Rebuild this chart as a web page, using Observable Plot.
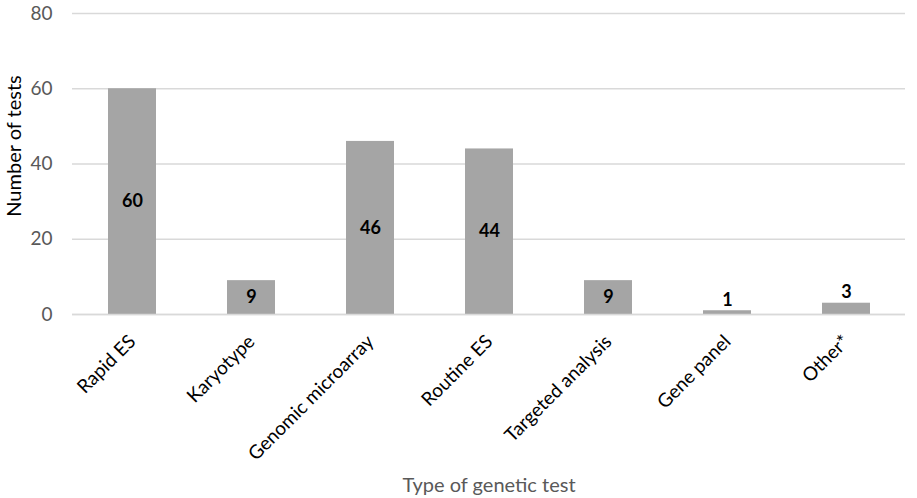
<!DOCTYPE html>
<html>
<head>
<meta charset="utf-8">
<script src="https://cdn.jsdelivr.net/npm/d3@7"></script>
<script src="https://cdn.jsdelivr.net/npm/@observablehq/plot@0.6"></script>
<style>
  html, body { margin: 0; padding: 0; background: #fff; }
  #chart { width: 917px; height: 498px; position: relative; }
  svg { font-family: Lato, "Open Sans", sans-serif; }
</style>
</head>
<body>
<div id="chart"></div>
<script>
// Number of tests by type of genetic test
const categories = ["Rapid ES", "Karyotype", "Genomic microarray", "Routine ES", "Targeted analysis", "Gene panel", "Other*"];
const counts = [60, 9, 46, 44, 9, 1, 3];
const yTicks = [0, 20, 40, 60, 80];

const rows = categories.map((c, i) => ({category: c, count: counts[i]}));
// short bars get their label just above the bar, the rest are centred inside
const inside = rows.filter(d => d.count >= 5);
const outside = rows.filter(d => d.count < 5);

const chart = Plot.plot({
  width: 917,
  height: 498,
  marginLeft: 72,
  marginRight: 12,
  marginTop: 13,
  marginBottom: 184,
  style: {fontFamily: "Lato, 'Open Sans', sans-serif", background: "#fff"},
  x: {domain: categories, paddingInner: 0.6, paddingOuter: 0.3, label: null},
  y: {domain: [0, 80], label: null},
  marks: [
    Plot.gridY(yTicks, {stroke: "#d9d9d9", strokeOpacity: 1, strokeWidth: 1.3}),
    Plot.barY(rows, {x: "category", y: "count", fill: "#a5a5a5"}),
    Plot.ruleY([0], {stroke: "#d9d9d9", strokeWidth: 1.3}),
    Plot.axisY({ticks: yTicks, tickSize: 0, tickPadding: 20, fontSize: 19, color: "#595959", label: null}),
    Plot.axisX({tickSize: 0, tickPadding: 24, tickRotate: -45, fontSize: 19, color: "#000", label: null}),
    Plot.text(inside, {x: "category", y: d => d.count / 2, text: d => String(d.count), fontSize: 18, fontWeight: "bold", fill: "#000"}),
    Plot.text(outside, {x: "category", y: "count", text: d => String(d.count), dy: -11, fontSize: 18, fontWeight: "bold", fill: "#000"}),
    Plot.text(["Number of tests"], {frameAnchor: "left", textAnchor: "middle", dx: -58, dy: -18, rotate: -90, fontSize: 20, fill: "#000"}),
    Plot.text(["Type of genetic test"], {frameAnchor: "bottom", textAnchor: "middle", lineAnchor: "middle", dy: 171, fontSize: 20, fill: "#595959"})
  ]
});
document.getElementById("chart").appendChild(chart);
</script>
</body>
</html>
